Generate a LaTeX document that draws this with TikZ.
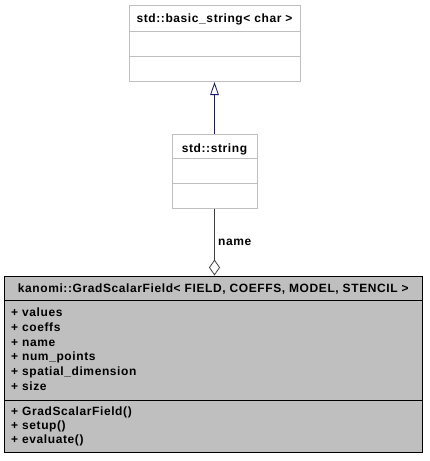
\documentclass[tikz,border=0pt]{standalone}
\usepackage{fontspec}
\setmainfont{Liberation Sans}
\newfontfamily\umlfont[LetterSpace=5]{Liberation Sans}
\usetikzlibrary{arrows.meta}
\definecolor{boxgray}{HTML}{BFBFBF}
\definecolor{edgeblue}{HTML}{191970}
\definecolor{edgegray}{HTML}{404040}
\tikzset{
  classbox/.style={draw=boxgray, fill=white, line width=1pt, inner sep=0pt},
  mainbox/.style={draw=black, fill=boxgray, line width=1pt, inner sep=0pt},
  member/.style={anchor=base west, inner sep=0pt, font=\umlfont\bfseries\fontsize{12}{12}\selectfont},
  title/.style={anchor=base, inner sep=0pt, font=\umlfont\bfseries\fontsize{12}{12}\selectfont}
}

\begin{document}
\begin{tikzpicture}[x=1pt,y=-1pt]
\useasboundingbox (0,0) rectangle (429,461);

% base class
\node[classbox, minimum width=171pt, minimum height=76.5pt] (basic) at (214.5,43.25) {};
\draw[boxgray, line width=1pt] (basic.west |- 0,31.5) -- (basic.east |- 0,31.5)
  (basic.west |- 0,56.5) -- (basic.east |- 0,56.5);
\node[title] (basict) at (214.5,22) {std::basic\_string< char >};

% std::string
\node[classbox, minimum width=85pt, minimum height=74.5pt] (str) at (214.5,171.25) {};
\draw[boxgray, line width=1pt] (str.west |- 0,158.5) -- (str.east |- 0,158.5)
  (str.west |- 0,183.5) -- (str.east |- 0,183.5);
\node[title] (strt) at (214.5,152) {std::string};

% main class
\node[mainbox, minimum width=418.5pt, minimum height=176.5pt] (grad) at (213.25,364.25) {};
\draw[black, line width=1pt] (grad.west |- 0,300.5) -- (grad.east |- 0,300.5)
  (grad.west |- 0,400) -- (grad.east |- 0,400);
\node[title] (gradt) at (213.25,292) {kanomi::GradScalarField< FIELD, COEFFS, MODEL, STENCIL >};

\node[member] (a1) at (11,316.7) {+ values};
\node[member] (a2) at (11,331.3) {+ coeffs};
\node[member] (a3) at (11,346) {+ name};
\node[member] (a4) at (11,360.7) {+ num\_points};
\node[member] (a5) at (11,375.3) {+ spatial\_dimension};
\node[member] (a6) at (11,390) {+ size};

\node[member] (m1) at (11,415) {+ GradScalarField()};
\node[member] (m2) at (11,429) {+ setup()};
\node[member] (m3) at (11,443) {+ evaluate()};

% relations
\draw[edgeblue, line width=0.8pt, -{Triangle[open, length=13pt, width=8.5pt]}] (str.north) -- (basic.south);
\draw[edgegray, line width=0.8pt, -{Diamond[open, length=16pt, width=11pt]}] (str.south) -- (str.south |- grad.north);
\node[member] (lbl) at (218,245) {name};
\end{tikzpicture}
\end{document}
